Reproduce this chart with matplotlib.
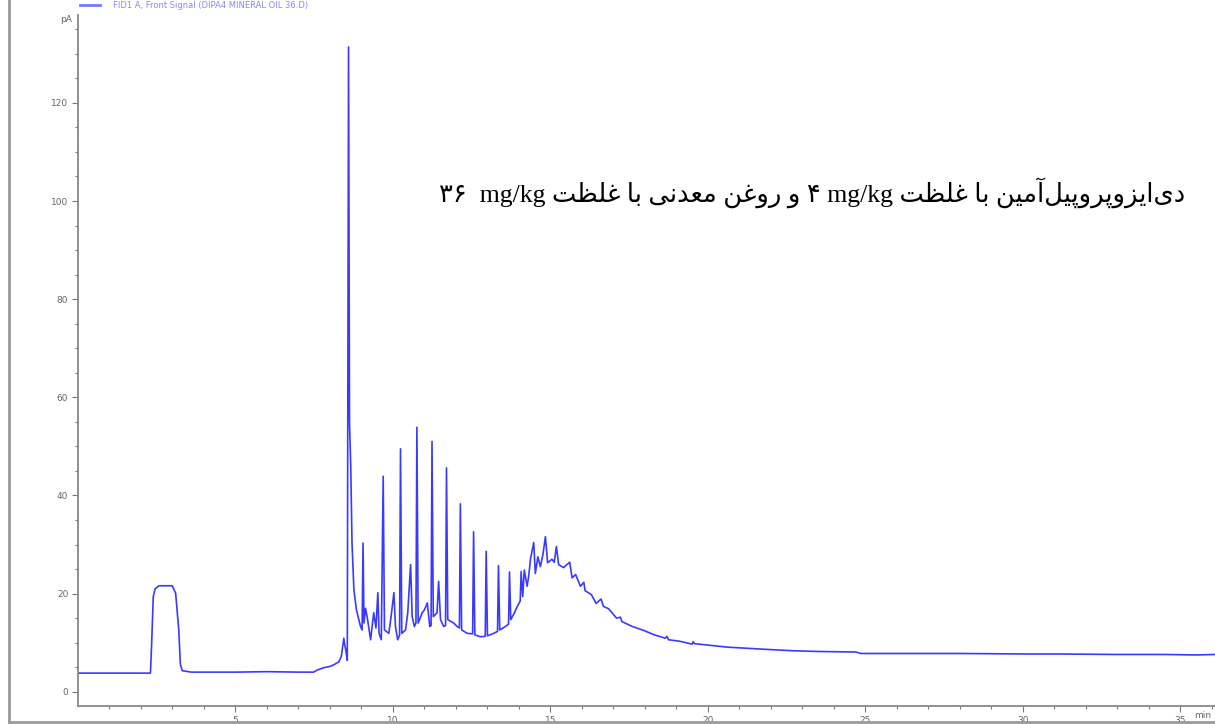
import matplotlib.pyplot as plt
from matplotlib.lines import Line2D

# chromatogram (time in min, signal in pA)
time_min = [0.0, 1.0, 2.30, 2.34, 2.39, 2.45, 2.57, 2.99, 3.10, 3.20, 3.25, 3.31,
            3.6, 5.0, 6.0, 7.0, 7.48, 7.59, 7.8, 8.02, 8.15, 8.28, 8.36, 8.44,
            8.47, 8.50, 8.55, 8.59, 8.62, 8.66, 8.70, 8.76, 8.84, 8.97, 9.02,
            9.05, 9.08, 9.13, 9.18, 9.29, 9.39, 9.46, 9.52, 9.56, 9.63, 9.69,
            9.73, 9.87, 9.94, 10.03, 10.08, 10.15, 10.21, 10.24, 10.28, 10.40,
            10.47, 10.56, 10.61, 10.68, 10.73, 10.76, 10.80, 10.93, 11.00,
            11.09, 11.17, 11.21, 11.24, 11.28, 11.40, 11.45, 11.51, 11.61,
            11.67, 11.70, 11.74, 11.93, 12.04, 12.11, 12.14, 12.18, 12.36,
            12.53, 12.56, 12.60, 12.78, 12.93, 12.96, 13.00, 13.20, 13.32,
            13.35, 13.39, 13.57, 13.67, 13.70, 13.74, 13.85, 13.94, 14.04, 14.07,
            14.12, 14.17, 14.26, 14.31, 14.37, 14.47, 14.52, 14.60, 14.68, 14.76,
            14.84, 14.91, 15.05, 15.12, 15.19, 15.26, 15.42, 15.61, 15.69, 15.80,
            15.95, 16.06, 16.10, 16.30, 16.45, 16.61, 16.68, 16.85, 17.10,
            17.22, 17.27, 17.60, 17.96, 18.30, 18.65, 18.70, 18.75, 19.10,
            19.50, 19.53, 19.57, 20.61, 21.67, 22.72, 23.57,
            24.70, 24.85, 26.0, 28.0, 30.0, 31.0, 33.0, 34.5, 35.5, 36.1]
signal_pa = [3.8, 3.8, 3.8, 10.0, 19.4, 21.0, 21.6, 21.6, 20.1, 12.6, 5.6, 4.3,
             4.0, 4.0, 4.1, 4.0, 4.0, 4.4, 4.9, 5.2, 5.6, 6.1, 7.2, 10.9,
             9.5, 8.6, 6.4, 131.4, 55.0, 45.9, 30.3, 20.8, 16.7, 13.3, 12.6,
             30.3, 14.0, 17.0, 15.3, 10.6, 16.1, 13.0, 20.2, 11.9, 10.6, 43.9,
             12.6, 11.9, 15.3, 20.2, 13.3, 10.6, 11.5, 49.5, 11.9, 12.6,
             16.1, 25.9, 15.3, 13.3, 14.0, 53.9, 14.0, 16.1, 16.7,
             18.1, 13.3, 13.5, 51.0, 15.3, 16.1, 22.5, 14.7, 13.3,
             13.5, 45.6, 14.7, 14.0, 13.3, 13.0, 38.3, 12.6, 11.9,
             11.8, 32.6, 11.6, 11.2, 11.3, 28.6, 11.4, 11.9, 12.3,
             25.7, 12.6, 13.3, 13.8, 24.4, 14.7, 16.0, 17.3, 18.5, 24.5,
             19.4, 24.8, 21.5, 23.6, 27.2, 30.4, 24.1, 27.5, 25.5, 27.9,
             31.6, 26.3, 27.0, 26.4, 29.6, 25.9, 25.3, 26.4, 23.2, 23.9,
             21.5, 22.3, 20.6, 19.8, 18.0, 18.9, 17.4, 16.9, 15.0,
             15.2, 14.3, 13.3, 12.5, 11.6, 10.9, 11.3, 10.6, 10.3,
             9.7, 10.2, 9.8, 9.1, 8.7, 8.35, 8.2,
             8.1, 7.8, 7.8, 7.8, 7.7, 7.7, 7.6, 7.6, 7.5, 7.6]

x_ticks = [5, 10, 15, 20, 25, 30, 35]
y_ticks = [0, 20, 40, 60, 80, 100, 120]

# logical order, Persian
note_words = ['دی‌ایزوپروپیل‌آمین', 'با', 'غلظت', 'mg/kg', '۴', 'و', 'روغن',
              'معدنی', 'با', 'غلظت', 'mg/kg', '۳۶']

# presentation forms: isolated, final, initial, medial
FORMS = {
    'ا': ('\uFE8D', '\uFE8E', None, None),
    'آ': ('\uFE81', '\uFE82', None, None),
    'ب': ('\uFE8F', '\uFE90', '\uFE91', '\uFE92'),
    'پ': ('\uFB56', '\uFB57', '\uFB58', '\uFB59'),
    'ت': ('\uFE95', '\uFE96', '\uFE97', '\uFE98'),
    'د': ('\uFEA9', '\uFEAA', None, None),
    'ر': ('\uFEAD', '\uFEAE', None, None),
    'ز': ('\uFEAF', '\uFEB0', None, None),
    'ظ': ('\uFEC5', '\uFEC6', '\uFEC7', '\uFEC8'),
    'ع': ('\uFEC9', '\uFECA', '\uFECB', '\uFECC'),
    'غ': ('\uFECD', '\uFECE', '\uFECF', '\uFED0'),
    'ل': ('\uFEDD', '\uFEDE', '\uFEDF', '\uFEE0'),
    'م': ('\uFEE1', '\uFEE2', '\uFEE3', '\uFEE4'),
    'ن': ('\uFEE5', '\uFEE6', '\uFEE7', '\uFEE8'),
    'و': ('\uFEED', '\uFEEE', None, None),
    'ی': ('\uFBFC', '\uFBFD', '\uFBFE', '\uFBFF'),
}


def shape(word):
    if not any(c in FORMS for c in word):
        return word
    out = []
    for i, c in enumerate(word):
        if c not in FORMS:
            continue
        prev = word[i - 1] if i > 0 else None
        nxt = word[i + 1] if i + 1 < len(word) else None
        jp = prev in FORMS and FORMS[prev][2] is not None
        jn = FORMS[c][2] is not None and nxt in FORMS
        iso, fin, ini, med = FORMS[c]
        if jp and jn:
            out.append(med)
        elif jp:
            out.append(fin)
        elif jn:
            out.append(ini)
        else:
            out.append(iso)
    return ''.join(reversed(out))


visual = [shape(w) for w in reversed(note_words)]
note = visual[0] + '  ' + ' '.join(visual[1:])

W, H = 1215, 724
fig = plt.figure(figsize=(W / 100, H / 100), dpi=100)
ax = fig.add_axes([78 / W, 1 - 706 / H, 1 - 78 / W, (706 - 15) / H])

ax.plot(time_min, signal_pa, color='#3a3aff', lw=1.2)
ax.set_xlim(0, 36.1)
ax.set_ylim(-2.9, 137.9)

ax.set_xticks(x_ticks)
ax.set_xticks(range(1, 37), minor=True)
ax.set_yticks(y_ticks)
ax.set_yticks(range(0, 140, 5), minor=True)
ax.tick_params(which='both', direction='out', colors='#777777', labelsize=6.5,
               labelcolor='#666666', width=0.8)
ax.tick_params(which='major', length=4, pad=3)
ax.tick_params(which='minor', length=2.5)
for s in ['top', 'right']:
    ax.spines[s].set_visible(False)
for s in ['left', 'bottom']:
    ax.spines[s].set_color('#888888')
    ax.spines[s].set_linewidth(1.3)

fig.text(66 / W, 1 - 20 / H, 'pA', fontsize=6.5, color='#666666', ha='center', va='center')
fig.text(1203 / W, 1 - 716 / H, 'min', fontsize=6.5, color='#666666', ha='center', va='center')

# outer frame of the screenshot
fig.add_artist(Line2D([9 / W, 9 / W], [0, 1], color='#999999', lw=2))
fig.add_artist(Line2D([9 / W, 1], [1 - 722 / H] * 2, color='#999999', lw=2))

# legend strip at the top
fig.add_artist(Line2D([80 / W, 100 / W], [1 - 5 / H] * 2, color='#7777ff', lw=2))
fig.text(113 / W, 1 - 5 / H, 'FID1 A, Front Signal (DIPA4 MINERAL OIL 36.D)',
         fontsize=6, color='#8888ff', ha='left', va='center')

fig.text(1185 / W, 1 - 193 / H, note, fontsize=18.5, color='black',
         ha='right', va='center', family=['Liberation Serif', 'DejaVu Sans'])

fig.savefig('out.png', dpi=100)
